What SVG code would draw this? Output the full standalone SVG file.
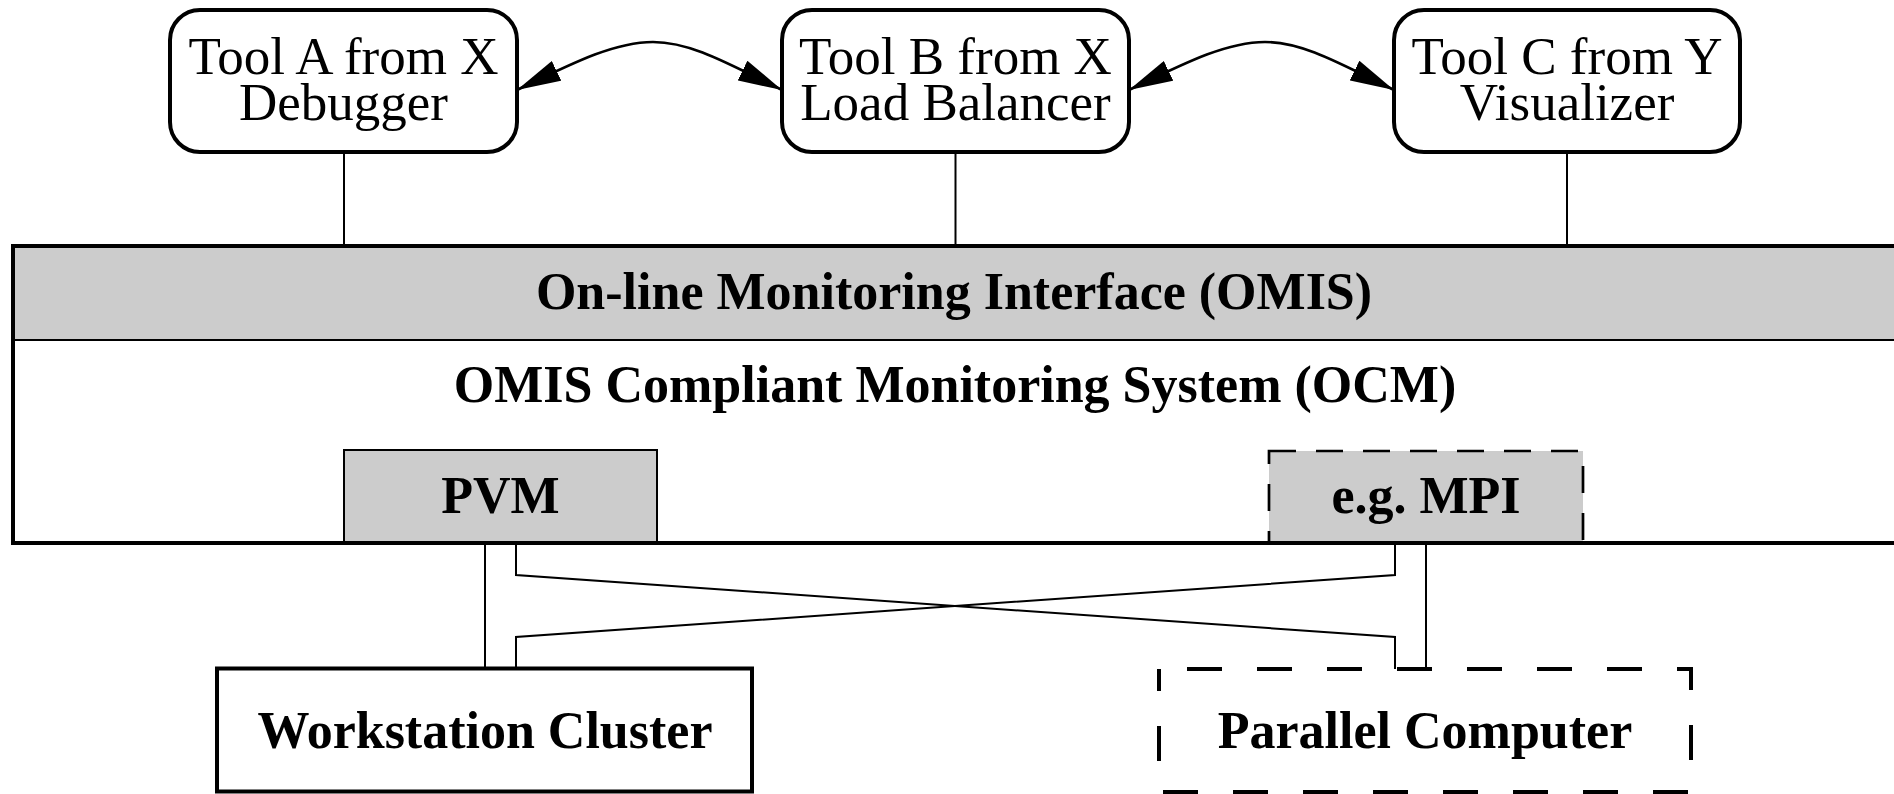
<svg xmlns="http://www.w3.org/2000/svg" width="1894" height="794" viewBox="0 0 1894 794">
<style>
.tool{fill:#fff;stroke:#000;stroke-width:4}
.t{font-family:"Liberation Serif","Times New Roman",serif;font-size:52px;fill:#000;text-anchor:middle}
.r{font-size:53px}
.b{font-weight:bold}
.ln{fill:none;stroke:#000;stroke-width:2}
.arr{fill:none;stroke:#000;stroke-width:2.7}
</style>
<defs>
<marker id="ah" markerUnits="userSpaceOnUse" markerWidth="44" markerHeight="22" refX="44" refY="11" orient="auto-start-reverse" viewBox="0 0 44 22">
<path d="M0,0 L44,11 L0,22 z" fill="#000"/>
</marker>
</defs>
<rect width="1894" height="794" fill="#fff"/>

<g id="ocm">
<rect x="13" y="246" width="1883" height="94" fill="#cccccc"/>
<rect x="13" y="340" width="1883" height="203" fill="#fff"/>
<line x1="13" y1="340" x2="1896" y2="340" stroke="#000" stroke-width="2"/>
<text class="t b" x="954" y="309">On-line Monitoring Interface (OMIS)</text>
<text class="t b" x="955" y="402">OMIS Compliant Monitoring System (OCM)</text>
</g>
<g id="pvm">
<rect x="344" y="450" width="313" height="93" fill="#cccccc" stroke="#000" stroke-width="2"/>
<text class="t b" x="500.5" y="513">PVM</text>
</g>
<g id="mpi">
<rect x="1269" y="451" width="314" height="92" fill="#cccccc" stroke="#000" stroke-width="2.7" stroke-dasharray="27 20"/>
<text class="t b" x="1426" y="513">e.g. MPI</text>
</g>
<rect x="13" y="246" width="1883" height="297" fill="none" stroke="#000" stroke-width="4"/>

<g id="toolA">
<rect class="tool" x="170" y="10" width="347" height="142" rx="30"/>
<text class="t r" x="343.5" y="74">Tool A from X</text>
<text class="t r" x="343.5" y="120">Debugger</text>
</g>
<g id="toolB">
<rect class="tool" x="782" y="10" width="347" height="142" rx="30"/>
<text class="t r" x="955.5" y="74">Tool B from X</text>
<text class="t r" x="955.5" y="120">Load Balancer</text>
</g>
<g id="toolC">
<rect class="tool" x="1394" y="10" width="346" height="142" rx="30"/>
<text class="t r" x="1567" y="74">Tool C from Y</text>
<text class="t r" x="1567" y="120">Visualizer</text>
</g>

<g id="ws">
<rect x="217" y="668.5" width="535" height="123" fill="#fff" stroke="#000" stroke-width="4"/>
<text class="t b" x="485" y="748">Workstation Cluster</text>
</g>
<g id="pc">
<rect x="1159" y="669" width="532" height="123" fill="#fff" stroke="#000" stroke-width="4" stroke-dasharray="35 35" stroke-dashoffset="42"/>
<text class="t b" x="1425" y="748">Parallel Computer</text>
</g>

<g id="connectors">
<path class="arr" d="M517,90 C575,62 615,42 653,42 C690,42 725,62 782,90" marker-start="url(#ah)" marker-end="url(#ah)"/>
<path class="arr" d="M1129,90 C1187,62 1227,42 1265,42 C1302,42 1337,62 1394,90" marker-start="url(#ah)" marker-end="url(#ah)"/>
<line class="ln" x1="344" y1="152" x2="344" y2="246"/>
<line class="ln" x1="955.5" y1="152" x2="955.5" y2="246"/>
<line class="ln" x1="1567" y1="152" x2="1567" y2="246"/>
<path class="ln" d="M485,545 V668"/>
<path class="ln" d="M516,545 V575 L1395,637 V669"/>
<path class="ln" d="M1395,545 V575 L516,637 V668"/>
<path class="ln" d="M1426,545 V669"/>
</g>
</svg>
